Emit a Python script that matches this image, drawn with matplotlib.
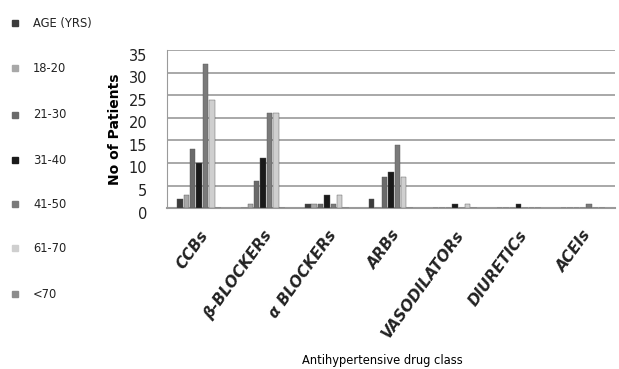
import numpy as np
import matplotlib.pyplot as plt
import matplotlib.transforms as mtransforms

classes = ['CCBs', 'β-BLOCKERs', 'α BLOCKERs', 'ARBs', 'VASODILATORs', 'DIURETICs', 'ACEIs']
groups = ['AGE (YRS)', '18-20', '21-30', '31-40', '41-50', '61-70', '<70']
age_yrs = [2, 0, 1, 2, 0, 0, 0]
g18_20 = [3, 1, 1, 0, 0, 0, 0]
g21_30 = [13, 6, 1, 7, 0, 0, 0]
g31_40 = [10, 11, 3, 8, 1, 1, 0]
g41_50 = [32, 21, 1, 14, 0, 0, 1]
g61_70 = [24, 21, 3, 7, 1, 0, 0]
g_over70 = [0, 0, 0, 0, 0, 0, 0]
yticks = [0, 5, 10, 15, 20, 25, 30, 35]

series = [age_yrs, g18_20, g21_30, g31_40, g41_50, g61_70, g_over70]
colors = ['#3c3c3c', '#a8a8a8', '#6a6a6a', '#1a1a1a', '#7a7a7a', '#cfcfcf', '#8c8c8c']

fig = plt.figure(figsize=(6.19, 3.69), dpi=100)
ax = fig.add_axes([0.270, 0.436, 0.723, 0.428])

x = np.arange(len(classes))
w = 0.1
for i, vals in enumerate(series):
    ax.bar(x + (i - 3) * w, vals, width=w * 0.85, color=colors[i],
           edgecolor='#555555', linewidth=0.3, label=groups[i], zorder=3)

ax.set_ylim(0, 35)
ax.set_xlim(-0.5, len(classes) - 0.5)
ax.set_yticks(yticks)
ax.set_yticklabels([])
# y labels sit a bit below the gridlines in the original (3D look)
off = mtransforms.ScaledTranslation(-0.20, -0.06, fig.dpi_scale_trans)
for t in yticks:
    ax.text(0, t, str(t), transform=ax.get_yaxis_transform() + off,
            ha='right', va='center', fontsize=10.5, color='#222222')
ax.tick_params(axis='y', length=0)
ax.tick_params(axis='x', length=0, pad=14)
ax.grid(axis='y', color='#9a9a9a', linewidth=1.2, zorder=0)
ax.set_axisbelow(True)

ax.set_xticks(x)
ax.set_xticklabels(classes, rotation=54, ha='right', va='top', rotation_mode='anchor',
                   fontsize=11, fontweight='bold', fontstyle='italic', color='#222222')

for s in ['top', 'right']:
    ax.spines[s].set_visible(False)
ax.spines['left'].set_color('#9a9a9a')
ax.spines['bottom'].set_color('#9a9a9a')
ax.spines['bottom'].set_linewidth(1.5)

ax.set_ylabel('No of Patients', fontsize=10, fontweight='bold')
ax.yaxis.set_label_coords(-0.10, 0.5)
fig.text(0.618, 0.005, 'Antihypertensive drug class', ha='center', va='bottom', fontsize=8.3)

# legend down the left side
leg_y = [23, 68, 115, 160, 204, 248, 294]
for i, g in enumerate(groups):
    yy = 1 - leg_y[i] / 369
    fig.patches.append(plt.Rectangle((12 / 619, yy - 3 / 369), 6 / 619, 6 / 369,
                                     transform=fig.transFigure, color=colors[i]))
    fig.text(33 / 619, yy, g, ha='left', va='center', fontsize=8.3, color='#222222')

fig.savefig('out.png', dpi=100)
